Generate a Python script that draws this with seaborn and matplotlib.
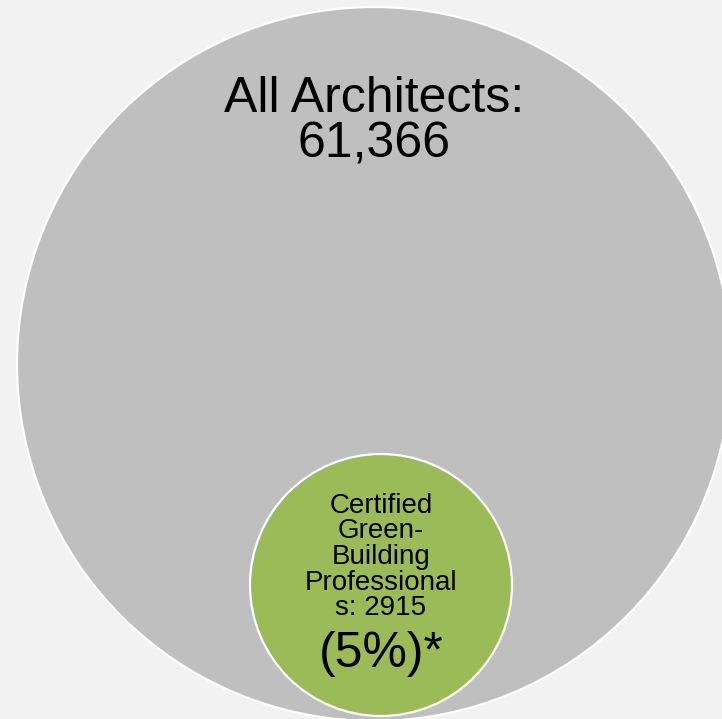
import matplotlib
matplotlib.use("Agg")
import matplotlib.pyplot as plt
import seaborn as sns
from matplotlib.patches import Circle

# Datos del diagrama
groups = ["All Architects", "Certified Green-Building Professionals"]
counts = [61366, 2915]
shares = [100, 5]

# Estilo
sns.set_theme(style="white")
plt.rcParams['font.family'] = ['Liberation Sans', 'DejaVu Sans']
palette = ["#bfbfbf", "#9bbb59"]
bg = "#f2f2f2"

fig = plt.figure(figsize=(7.22, 7.19), dpi=100, facecolor=bg)
ax = fig.add_axes([0, 0, 1, 1])
ax.set_facecolor(bg)
ax.set_xlim(0, 722)
ax.set_ylim(719, 0)
ax.set_aspect('equal')
ax.axis('off')

# Circulos (posicion y radio del diseño, no proporcionales)
centers = [(374, 364), (381, 585)]
radii = [357, 131]
for (cx, cy), r, col in zip(centers, radii, palette):
    ax.add_patch(Circle((cx, cy), r, facecolor=col, edgecolor='white', linewidth=1.6))

# Texto del circulo grande
ax.text(374, 112, f"{groups[0]}:", ha='center', va='baseline', fontsize=36, color='black')
ax.text(374, 157, f"{counts[0]:,}", ha='center', va='baseline', fontsize=36, color='black')

# Texto del circulo pequeño
small_lines = ["Certified", "Green-", "Building", "Professional", f"s: {counts[1]}"]
for i, line in enumerate(small_lines):
    ax.text(381, 513 + i * 25.5, line, ha='center', va='baseline', fontsize=20, color='black')
ax.text(381, 667, f"({shares[1]}%)*", ha='center', va='baseline', fontsize=36, color='black')

fig.savefig("out.png", dpi=100, facecolor=bg)
